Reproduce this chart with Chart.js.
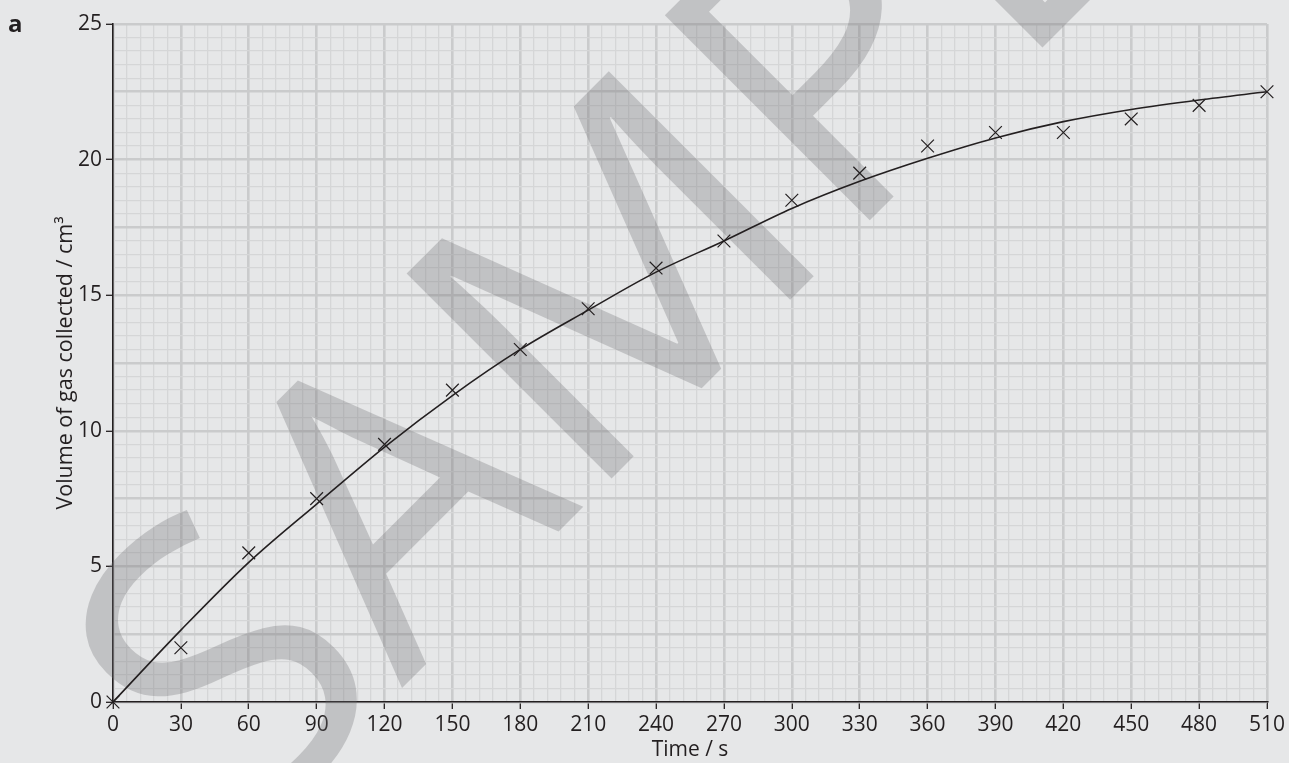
<!DOCTYPE html>
<html>
<head>
<meta charset="utf-8">
<script src="https://cdn.jsdelivr.net/npm/chart.js@4.4.1/dist/chart.umd.min.js"></script>
<style>
  html, body { margin: 0; padding: 0; background: #e6e7e8; }
  #wrap { width: 1289px; height: 763px; position: relative; }
</style>
</head>
<body>
<div id="wrap"><canvas id="gas_volume"></canvas></div>
<script>
// measured points (time / s, volume / cm3)
const times = [0, 30, 60, 90, 120, 150, 180, 210, 240, 270, 300, 330, 360, 390, 420, 450, 480, 510];
const volumes = [0, 2, 5.5, 7.5, 9.5, 11.5, 13, 14.5, 16, 17, 18.5, 19.5, 20.5, 21, 21, 21.5, 22, 22.5];
const curveVolumes = [0, 2.65, 5.15, 7.3, 9.4, 11.3, 13, 14.45, 15.85, 17, 18.2, 19.2, 20.05, 20.8, 21.4, 21.85, 22.2, 22.5];

const ink = '#231f20';
const majorGrid = '#cacbcc';
const minorGrid = '#d5d6d7';

// "a" label + SAMPLE watermark
const extras = {
  id: 'extras',
  beforeDatasetsDraw(chart) {
    const c = chart.ctx;
    c.save();
    c.font = '400 406px "Open Sans"';
    c.fillStyle = 'rgba(110, 110, 112, 0.30)';
    const wS = c.measureText('S').width;
    const ang = -Math.PI / 4;
    // start of the "A" on the baseline
    const ax = 402, ay = 688;
    c.translate(ax - wS * Math.cos(ang), ay - wS * Math.sin(ang));
    c.rotate(ang);
    c.textBaseline = 'alphabetic';
    c.fillText('SAMPLE', 0, 0);
    c.restore();
  },
  afterDraw(chart) {
    const c = chart.ctx;
    c.save();
    c.font = 'bold 24px "Open Sans"';
    c.fillStyle = ink;
    c.fillText('a', 8, 32);
    c.restore();
  }
};

const ctx = document.getElementById('gas_volume').getContext('2d');
const myChart = new Chart(ctx, {
  plugins: [extras],
  type: 'scatter',
  data: {
    datasets: [
      {
        label: 'measured',
        data: times.map((t, i) => ({ x: t, y: volumes[i] })),
        pointStyle: 'crossRot',
        pointRadius: 9,
        pointHoverRadius: 9,
        borderColor: ink,
        backgroundColor: ink,
        pointBorderWidth: 1.2,
        showLine: false,
        clip: false
      },
      {
        label: 'curve',
        data: times.map((t, i) => ({ x: t, y: curveVolumes[i] })),
        showLine: true,
        pointRadius: 0,
        borderColor: ink,
        borderWidth: 1.6,
        cubicInterpolationMode: 'monotone',
        fill: false
      }
    ]
  },
  options: {
    responsive: true,
    maintainAspectRatio: false,
    animation: false,
    layout: { padding: { top: 24, right: 22, left: 0, bottom: 0 } },
    plugins: {
      legend: { display: false },
      tooltip: { enabled: false }
    },
    scales: {
      x: {
        type: 'linear',
        min: 0,
        max: 510,
        afterFit: function (scale) { scale.height = 61; },
        border: { display: true, color: ink, width: 1.6 },
        grid: {
          color: function (c) { return c.tick.value % 30 === 0 ? majorGrid : minorGrid; },
          lineWidth: function (c) { return c.tick.value % 30 === 0 ? 2.6 : 1.3; },
          tickColor: function (c) { return c.tick.value % 30 === 0 ? ink : 'rgba(0,0,0,0)'; },
          tickLength: 7,
          tickWidth: 1.3
        },
        ticks: {
          stepSize: 6,
          autoSkip: false,
          maxRotation: 0,
          padding: 3,
          color: ink,
          font: { family: 'Open Sans', size: 21 },
          callback: function (value) { return value % 30 === 0 ? value : ''; }
        },
        title: {
          display: true,
          text: 'Time / s',
          color: ink,
          font: { family: 'Open Sans', size: 21 },
          padding: { top: 0, bottom: 0 }
        }
      },
      y: {
        type: 'linear',
        min: 0,
        max: 25,
        afterFit: function (scale) { scale.width = 113; },
        border: { display: true, color: ink, width: 1.6 },
        grid: {
          color: function (c) { return c.tick.value % 2.5 === 0 ? majorGrid : minorGrid; },
          lineWidth: function (c) { return c.tick.value % 2.5 === 0 ? 2.6 : 1.3; },
          tickColor: function (c) { return c.tick.value % 5 === 0 ? ink : 'rgba(0,0,0,0)'; },
          tickLength: 7,
          tickWidth: 1.3
        },
        ticks: {
          stepSize: 0.5,
          autoSkip: false,
          padding: 4,
          color: ink,
          font: { family: 'Open Sans', size: 21 },
          callback: function (value) { return value % 5 === 0 ? value : ''; }
        },
        title: {
          display: true,
          text: 'Volume of gas collected / cm³',
          color: ink,
          font: { family: 'Open Sans', size: 21.5 },
          padding: { top: 53, bottom: 0 }
        }
      }
    }
  }
});
</script>
</body>
</html>
